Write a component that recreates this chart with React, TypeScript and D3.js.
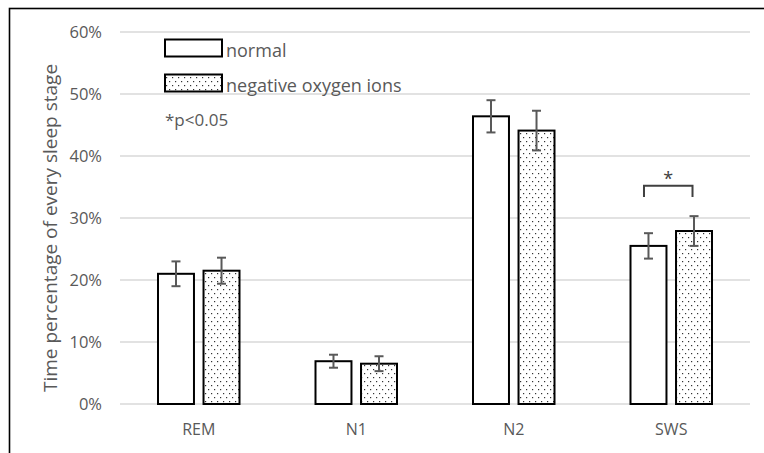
import React from 'react';
import * as d3 from 'd3';

const categories = ['REM', 'N1', 'N2', 'SWS'];
const seriesNames = ['normal', 'negative oxygen ions'];
const normalValues = [21.0, 6.9, 46.4, 25.5];
const normalErrors = [2.0, 1.05, 2.6, 2.05];
const negativeValues = [21.5, 6.5, 44.1, 27.9];
const negativeErrors = [2.1, 1.2, 3.2, 2.4];
const yTicks = [0, 10, 20, 30, 40, 50, 60];
const significantCategory = 'SWS';

const W = 764;
const H = 453;
const margin = { t: 32, b: 49, l: 120, r: 14 };
const font = '"Open Sans", "Noto Sans", sans-serif';
const gray = '#595959';

export default function App() {
  const x = d3.scaleBand<string>()
    .domain(categories)
    .range([margin.l, W - margin.r])
    .paddingInner(0)
    .paddingOuter(0);

  const inner = d3.scaleBand<string>()
    .domain(seriesNames)
    .range([38, 119.5])
    .paddingInner(0.21)
    .paddingOuter(0);

  const y = d3.scaleLinear()
    .domain([0, 60])
    .range([H - margin.b, margin.t]);

  const series = [
    { name: seriesNames[0], values: normalValues, errors: normalErrors, fill: '#ffffff' },
    { name: seriesNames[1], values: negativeValues, errors: negativeErrors, fill: 'url(#dots)' },
  ];

  // bar center helper
  const cx = (cat: string, s: string) => (x(cat) || 0) + (inner(s) || 0) + inner.bandwidth() / 2;

  const sigX1 = cx(significantCategory, seriesNames[0]) - 4.5;
  const sigX2 = cx(significantCategory, seriesNames[1]) - 1.5;
  const sigTop = y(35.2);
  const sigBottom = y(33.4);

  return (
    <svg width={W} height={H} style={{ position: 'absolute', left: 0, top: 0, background: '#fff' }}>
      <defs>
        <pattern id="dots" width="6" height="8" patternUnits="userSpaceOnUse">
          <rect width="6" height="8" fill="#fff" />
          <rect x="1" y="1" width="1.2" height="1.2" fill="#333" />
          <rect x="4" y="5" width="1.2" height="1.2" fill="#333" />
        </pattern>
      </defs>

      {/* outer frame */}
      <rect x={9.5} y={8.5} width={W + 20} height={H + 20} fill="none" stroke="#000" strokeWidth={1.6} />

      {/* gridlines + y labels */}
      {yTicks.map(t => (
        <g key={t}>
          <line x1={margin.l} x2={W - margin.r} y1={y(t)} y2={y(t)} stroke="#d9d9d9" strokeWidth={1.3} />
          <text x={102} y={y(t) + 6} textAnchor="end" fontFamily={font} fontSize={16.5} fill={gray}>{t + '%'}</text>
        </g>
      ))}

      {/* bars */}
      {series.map(s => (
        <g key={s.name}>
          {categories.map((c, i) => (
            <rect key={c}
                  x={(x(c) || 0) + (inner(s.name) || 0)}
                  y={y(s.values[i])}
                  width={inner.bandwidth()}
                  height={y(0) - y(s.values[i])}
                  fill={s.fill} stroke="#000" strokeWidth={2} />
          ))}
        </g>
      ))}

      {/* error bars */}
      {series.map(s => (
        <g key={s.name + '-err'} stroke={gray} strokeWidth={2}>
          {categories.map((c, i) => {
            const m = cx(c, s.name);
            const hi = y(s.values[i] + s.errors[i]);
            const lo = y(s.values[i] - s.errors[i]);
            return (
              <g key={c}>
                <line x1={m} x2={m} y1={hi} y2={lo} />
                <line x1={m - 4.5} x2={m + 4.5} y1={hi} y2={hi} />
                <line x1={m - 4.5} x2={m + 4.5} y1={lo} y2={lo} />
              </g>
            );
          })}
        </g>
      ))}

      {/* category labels */}
      {categories.map(c => (
        <text key={c} x={(x(c) || 0) + x.bandwidth() / 2} y={435} textAnchor="middle"
              fontFamily={font} fontSize={16} fill={gray}>{c}</text>
      ))}

      {/* significance bracket */}
      <path d={`M${sigX1},${sigBottom}V${sigTop}H${sigX2}V${sigBottom}`} fill="none" stroke="#404040" strokeWidth={2} />
      <text x={(sigX1 + sigX2) / 2} y={sigTop - 1} textAnchor="middle" fontFamily={font} fontSize={18} fill="#404040">*</text>

      {/* legend */}
      <rect x={165} y={39.5} width={57} height={17} fill="#fff" stroke="#000" strokeWidth={2} />
      <text x={226} y={57} fontFamily={font} fontSize={18} fill={gray}>{seriesNames[0]}</text>
      <rect x={165} y={74.5} width={57} height={17} fill="url(#dots)" stroke="#000" strokeWidth={2} />
      <text x={226} y={92} fontFamily={font} fontSize={18} fill={gray}>{seriesNames[1]}</text>
      <text x={165} y={126} fontFamily={font} fontSize={17} fill={gray}>*p&lt;0.05</text>

      {/* y axis title */}
      <text transform={`translate(57,${(margin.t + H - margin.b) / 2 + 10}) rotate(-90)`} textAnchor="middle"
            fontFamily={font} fontSize={19} fill={gray}>Time percentage of every sleep stage</text>
    </svg>
  );
}
